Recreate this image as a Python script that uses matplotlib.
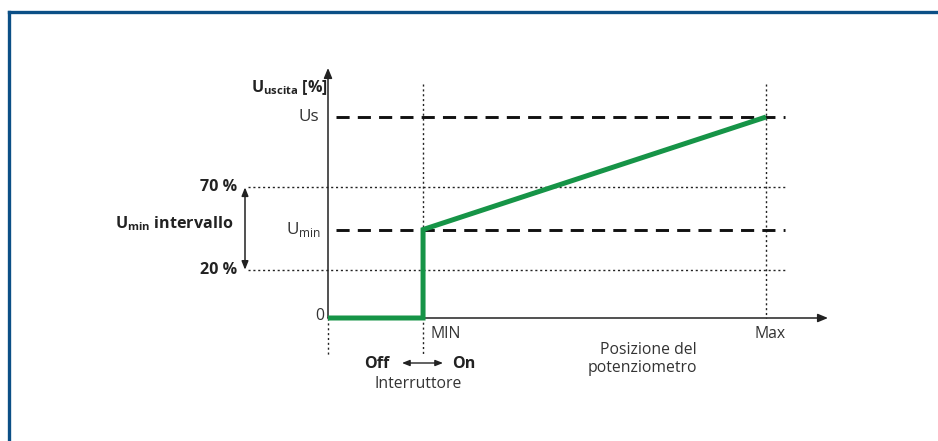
import matplotlib.pyplot as plt
from matplotlib.lines import Line2D

plt.rcParams["font.family"] = ["Open Sans", "DejaVu Sans"]
plt.rcParams["mathtext.fontset"] = "custom"
plt.rcParams["mathtext.rm"] = "Open Sans"
plt.rcParams["mathtext.bf"] = "Open Sans:bold"

# ── schematic values (potentiometer position 0..100, output 0..100 = Us) ──
x_off = 0.0
x_min = 21.7
x_max = 100.0
y_zero = 0.0
y_umin = 44.0
y_us = 100.0
y_20 = 24.0
y_70 = 65.0

curve_x = [x_off, x_min, x_min, x_max]
curve_y = [y_zero, y_zero, y_umin, y_us]

GREEN = "#169447"
INK = "#222222"
BORDER = "#0b4f86"

# pixel -> data helpers (layout only)
SX, SY = 4.38, 2.01
X0, Y0 = 328, 318
def X(px):
    return (px - X0) / SX
def Y(py):
    return (Y0 - py) / SY

fig = plt.figure(figsize=(9.38, 4.41), dpi=100)
ax = fig.add_axes([0, 0, 1, 1])
ax.set_xlim(X(0), X(938))
ax.set_ylim(Y(441), Y(0))
ax.axis("off")

# frame (top + left only)
fig.add_artist(Line2D([9 / 938, 1], [1 - 12 / 441] * 2, color=BORDER, lw=2.4))
fig.add_artist(Line2D([9 / 938] * 2, [0, 1 - 12 / 441], color=BORDER, lw=2.4))

# axes arrows
arrow = dict(arrowstyle="-|>,head_length=0.6,head_width=0.25", color=INK, lw=1.1,
             shrinkA=0, shrinkB=0)
ax.annotate("", xy=(X(828), y_zero), xytext=(x_off, y_zero), arrowprops=arrow)
ax.annotate("", xy=(x_off, Y(68)), xytext=(x_off, y_zero), arrowprops=arrow)

# dotted guides
dot = dict(color=INK, lw=1.0, ls=(0, (1.5, 2)))
ax.plot([x_off, x_off], [y_zero, Y(355)], **dot)
ax.plot([x_min, x_min], [Y(84), Y(355)], **dot)
ax.plot([x_max, x_max], [Y(84), y_zero], **dot)
for lvl in (y_70, y_20):
    ax.plot([X(248), X(785)], [lvl, lvl], **dot)

# dashed levels
for lvl in (y_us, y_umin):
    ax.plot([X(336), X(785)], [lvl, lvl], color="#111111", lw=2.1,
            ls=(0, (4.5, 2.8)), dash_capstyle="butt")

# output curve
ax.plot(curve_x, curve_y, color=GREEN, lw=3.6, solid_joinstyle="miter",
        solid_capstyle="butt", zorder=5)

# Umin range double arrow
darrow = dict(arrowstyle="<|-|>,head_length=0.5,head_width=0.2", color=INK, lw=1.1,
              shrinkA=0, shrinkB=0)
ax.annotate("", xy=(X(245), y_70), xytext=(X(245), y_20), arrowprops=darrow)
# Off <-> On arrow
darrow2 = dict(arrowstyle="<|-|>,head_length=0.45,head_width=0.18", color=INK, lw=1.0,
               shrinkA=0, shrinkB=0)
ax.annotate("", xy=(X(443), Y(363)), xytext=(X(402), Y(363)), arrowprops=darrow2)

fs = 11.3
fb = 11.6
ax.text(X(328), Y(88), r"$\mathbf{U}_{\mathbf{uscita}}$ [%]", ha="right", va="center",
        fontsize=fb, fontweight="bold", color=INK)
ax.text(X(319), y_us, "Us", ha="right", va="center", fontsize=fs + 1, color="#333333")
ax.text(X(321), y_umin, r"$\mathrm{U}_{\mathrm{min}}$", ha="right", va="center",
        fontsize=fs + 1, color="#333333")
ax.text(X(324), Y(316), "0", ha="right", va="center", fontsize=fs, color="#333333")
ax.text(X(237), y_70, "70 %", ha="right", va="center", fontsize=fb, fontweight="bold",
        color=INK)
ax.text(X(237), y_20, "20 %", ha="right", va="center", fontsize=fb, fontweight="bold",
        color=INK)
ax.text(X(233), Y(224), r"$\mathbf{U}_{\mathbf{min}}$ intervallo", ha="right",
        va="center", fontsize=fb, fontweight="bold", color=INK)
ax.text(X(430), Y(334), "MIN", ha="left", va="center", fontsize=fs, color="#333333")
ax.text(X(770), Y(334), "Max", ha="center", va="center", fontsize=fs, color="#333333")
ax.text(X(697), Y(359), "Posizione del\npotenziometro", ha="right", va="center",
        fontsize=fs, color="#333333", linespacing=1.2)
ax.text(X(364), Y(364), "Off", ha="left", va="center", fontsize=fb, fontweight="bold",
        color=INK)
ax.text(X(452), Y(364), "On", ha="left", va="center", fontsize=fb, fontweight="bold",
        color=INK)
ax.text(X(418), Y(384), "Interruttore", ha="center", va="center", fontsize=fs,
        color="#333333")

fig.savefig("out.png", dpi=100)
